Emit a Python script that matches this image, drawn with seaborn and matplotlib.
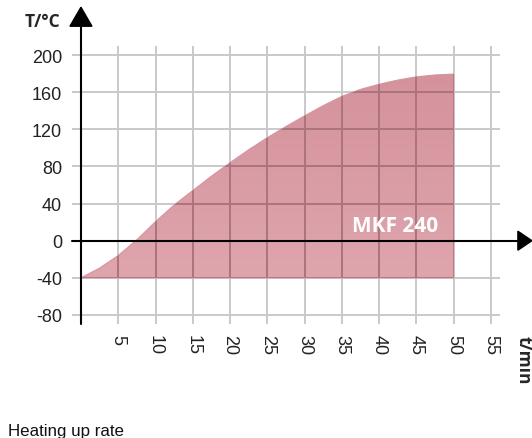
import numpy as np
import pandas as pd
import matplotlib
matplotlib.use("Agg")
import matplotlib.pyplot as plt
from matplotlib.patches import Polygon
import seaborn as sns

# ---- data ----
time_min = [0, 2.5, 5, 7.5, 10, 12.5, 15, 17.5, 20, 22.5, 25, 27.5, 30,
            32.5, 35, 37.5, 40, 42.5, 45, 47.5, 50]
temp_c = [-40, -29.5, -16, 1, 20.5, 38.5, 54, 69.5, 84, 98, 111, 123, 134.5,
          145.5, 155.5, 163, 168.5, 173, 176.5, 178.5, 179.5]
start_temp = -40
x_ticks = [5, 10, 15, 20, 25, 30, 35, 40, 45, 50, 55]
y_ticks = [-80, -40, 0, 40, 80, 120, 160, 200]
series_label = "MKF 240"
x_label = "t/min"
y_label = "T/°C"
caption = "Heating up rate"

df = pd.DataFrame({"t": time_min, "T": temp_c})

sns.set_theme(style="white")
plt.rcParams["font.family"] = ["Liberation Sans", "DejaVu Sans"]
plt.rcParams["axes.unicode_minus"] = False

W, H = 532, 439
fig = plt.figure(figsize=(W / 100, H / 100), dpi=100)
ax = fig.add_axes([72 / W, (H - 325) / H, 428 / W, 278 / H])
xmin, xmax = -1.2, 56.2
ymin, ymax = -89.7, 209.7
ax.set_xlim(xmin, xmax)
ax.set_ylim(ymin, ymax)
pxx = 428 / (xmax - xmin)   # px per minute
pxy = 278 / (ymax - ymin)   # px per degree

for s in ax.spines.values():
    s.set_visible(False)

# base grid (light grey)
ax.set_xticks(x_ticks)
ax.set_yticks(y_ticks)
ax.grid(True, color="#c9c9cc", linewidth=1.4, zorder=0)
ax.set_axisbelow(True)
ax.tick_params(axis="both", length=0, labelsize=13, labelcolor="#222222")
ax.tick_params(axis="x", pad=7.2, labelrotation=270)
ax.tick_params(axis="y", pad=7.2)

# filled area
poly = ax.fill_between(df["t"], start_temp, df["T"], color="#d99ba4",
                       linewidth=0, zorder=1)
sns.lineplot(data=df, x="t", y="T", ax=ax, color="#d5949e", linewidth=0.8,
             zorder=2, legend=False)
clip_path = poly.get_paths()[0]

# vertical gradient inside area
grad = np.linspace(0, 1, 256).reshape(-1, 1)
top = np.array([0xd4, 0x92, 0x9d]) / 255
bot = np.array([0xdf, 0xa5, 0xad]) / 255
img = top[None, None, :] * (1 - grad[:, :, None]) + bot[None, None, :] * grad[:, :, None]
im = ax.imshow(img, extent=[min(time_min), max(time_min), start_temp, max(temp_c)],
               origin="upper", aspect="auto", zorder=1.5)
im.set_clip_path(clip_path, ax.transData)

# darker grid lines inside the area
vl = ax.vlines(x_ticks, ymin, ymax, color="#ab747d", linewidth=1.4, zorder=2.5)
hl = ax.hlines(y_ticks, xmin, xmax, color="#ab747d", linewidth=1.4, zorder=2.5)
vl.set_clip_path(clip_path, ax.transData)
hl.set_clip_path(clip_path, ax.transData)
ax.set_xlim(xmin, xmax)
ax.set_ylim(ymin, ymax)

# axes lines with arrows
ax.plot([0, 0], [ymin, 231], color="black", linewidth=1.5, clip_on=False, zorder=5)
ax.plot([xmin, 58.8], [0, 0], color="black", linewidth=1.5, clip_on=False, zorder=5)
ya = Polygon([(-11 / pxx, 231), (11 / pxx, 231), (0, 231 + 19 / pxy)],
             closed=True, color="black", clip_on=False, zorder=6)
xa = Polygon([(58.6, 9.5 / pxy), (58.6, -9.5 / pxy), (58.6 + 14 / pxx, 0)],
             closed=True, color="black", clip_on=False, zorder=6)
ax.add_patch(ya)
ax.add_patch(xa)

ax.set_xlabel("")
ax.set_ylabel("")

# texts
ax.text(42.1, 10, series_label, color="white", fontsize=15, fontweight="bold",
        family=["Open Sans", "DejaVu Sans"], ha="center", va="baseline", zorder=7)
fig.text(25 / W, 1 - 27 / H, y_label, fontsize=12.5, fontweight="bold",
         family=["Open Sans", "DejaVu Sans"], ha="left", va="baseline")
fig.text(524 / W, 1 - 360 / H, x_label, fontsize=12.5, fontweight="bold",
         family=["Open Sans", "DejaVu Sans"], rotation=270, ha="center", va="center")
fig.text(8 / W, 3 / H, caption, fontsize=12.2, ha="left", va="baseline",
         color="#111111")

fig.savefig("out.png", dpi=100)
